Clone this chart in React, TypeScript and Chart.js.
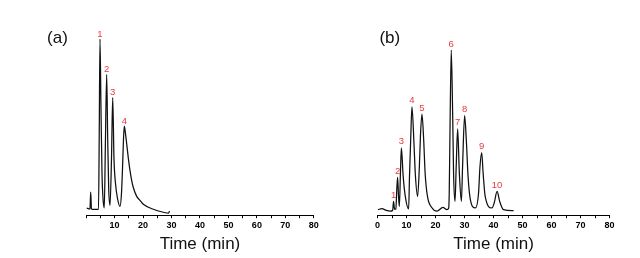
import React, { useEffect, useRef } from 'react';
import { Chart, registerables } from 'chart.js';

Chart.register(...registerables);

// ---- Panel (a) chromatogram ----
const timeA = [0.21, 1.18, 1.36, 1.61, 1.89, 2.29, 4.36, 4.61, 4.88, 5.23, 5.59, 5.94, 6.39, 6.75, 7.23, 7.59, 7.94, 8.4, 8.92, 9.35, 9.8, 10.33, 11.03, 11.91, 12.43, 12.79, 13.14, 13.42, 13.77, 14.27, 14.82, 15.43, 16.02, 16.59, 17.78, 18.93, 20.1, 23.61, 27.13, 28.95, 29.31];
const signalA = [7.3, 6.3, 6.6, 23.3, 6.3, 5.8, 5.8, 80, 178, 107, 42, 17, 7.3, 67, 142.3, 77, 27, 10, 57, 119, 57, 32, 17, 8.8, 22, 47, 77, 90, 84, 72, 58, 45, 35, 28, 19, 15, 11, 6, 3, 2, 4.3];
const peakLabelsA = ['1', '2', '3', '4'];
const peakTimesA = [4.88, 7.23, 9.35, 13.42];
const peakHeightsA = [178, 142.3, 119, 90];

// ---- Panel (b) chromatogram ----
const timeB = [0.1, 1.5, 3.0, 4.4, 5.2, 5.5, 5.85, 6.3, 6.6, 6.9, 7.2, 7.5, 7.9, 8.2, 8.8, 9.55, 10.7, 11.0, 11.4, 11.85, 12.55, 13.0, 13.8, 14.4, 14.8, 15.3, 15.9, 16.4, 17.2, 18.8, 20.5, 22.5, 23.9, 24.5, 24.7, 24.95, 25.4, 25.9, 26.2, 26.7, 27.1, 27.6, 28.2, 28.9, 29.3, 30.0, 30.6, 31.2, 32.0, 33.7, 34.8, 35.3, 35.9, 36.4, 37.1, 39.4, 40.2, 41.2, 42.1, 43.4, 46.9];
const signalB = [5.6, 6.6, 4.8, 4.0, 5.0, 14, 6.0, 6.5, 25, 38.3, 20, 9, 45, 68, 40, 19, 6.3, 39, 75.6, 109.6, 72, 42, 19, 49, 82, 102.3, 75.6, 42, 19, 7.3, 4.0, 8.0, 5.6, 7.0, 22, 82, 167, 99, 42, 14, 49, 87.3, 42, 14, 49, 100.6, 75.6, 39, 15.6, 7.3, 22, 49, 63.3, 42, 19, 7.3, 12.3, 24, 14, 5.6, 4.6];
const peakLabelsB = ['1', '2', '3', '4', '5', '6', '7', '8', '9', '10'];
const peakTimesB = [5.5, 6.9, 8.2, 11.85, 15.3, 25.4, 27.6, 30.0, 35.9, 41.2];
const peakHeightsB = [14, 38.3, 68, 109.6, 102.3, 167, 87.3, 100.6, 63.3, 24];

// ---- Axis ----
const X_MIN = 0;
const X_MAX = 80;
const TICK_STEP = 5;
const LABEL_STEP = 10;
const X_TITLE = 'Time (min)';
const Y_MAX = 190;

type PanelSpec = {
  name: string;
  time: number[];
  signal: number[];
  labels: string[];
  peakTimes: number[];
  peakHeights: number[];
  showZero: boolean;
  padLeft: number;
  padRight: number;
  nameDx: number;
  labelGap: number;
};

const panels: PanelSpec[] = [
  { name: '(a)', time: timeA, signal: signalA, labels: peakLabelsA, peakTimes: peakTimesA, peakHeights: peakHeightsA, showZero: false, padLeft: 86.1, padRight: 326.2, nameDx: -28.6, labelGap: 2.5 },
  { name: '(b)', time: timeB, signal: signalB, labels: peakLabelsB, peakTimes: peakTimesB, peakHeights: peakHeightsB, showZero: true, padLeft: 377.6, padRight: 30.4, nameDx: 12.2, labelGap: 3.5 },
];

const TICK_FONT = "'Liberation Sans Narrow', 'Arial Narrow', 'Liberation Sans', Arial, sans-serif";
const TEXT_FONT = "'Liberation Sans', Arial, sans-serif";

function Panel({ spec }: { spec: PanelSpec }) {
  const ref = useRef<HTMLCanvasElement | null>(null);
  useEffect(() => {
    if (!ref.current) return;
    const annot = {
      id: 'peakLabels',
      afterDatasetsDraw(chart: any) {
        const ctx = chart.ctx;
        const xs = chart.scales.x;
        const ys = chart.scales.y;
        ctx.save();
        ctx.fillStyle = '#e83a3a';
        ctx.font = `9.5px ${TEXT_FONT}`;
        ctx.textAlign = 'center';
        ctx.textBaseline = 'alphabetic';
        spec.labels.forEach((lab, i) => {
          const x = xs.getPixelForValue(spec.peakTimes[i]);
          const y = ys.getPixelForValue(spec.peakHeights[i]) - spec.labelGap;
          ctx.fillText(lab, x, y);
        });
        ctx.fillStyle = '#111';
        ctx.font = `17px ${TEXT_FONT}`;
        ctx.textBaseline = 'middle';
        ctx.fillText(spec.name, chart.chartArea.left + spec.nameDx, 38);
        ctx.restore();
      },
    };
    const chart = new Chart(ref.current, {
      type: 'line',
      data: {
        datasets: [
          {
            data: spec.time.map((t, i) => ({ x: t, y: spec.signal[i] })),
            borderColor: '#101010',
            borderWidth: 1.25,
            pointRadius: 0,
            fill: false,
            cubicInterpolationMode: 'monotone',
          },
        ],
      },
      options: {
        responsive: false,
        animation: false,
        devicePixelRatio: 1,
        layout: { padding: { left: spec.padLeft, right: spec.padRight, top: 27.3, bottom: 3.1 } },
        plugins: { legend: { display: false }, tooltip: { enabled: false }, title: { display: false } },
        scales: {
          x: {
            type: 'linear',
            min: X_MIN,
            max: X_MAX,
            border: { display: true, color: '#000', width: 1 },
            grid: { drawOnChartArea: false, drawTicks: true, tickLength: 3, color: '#000', lineWidth: 1 },
            ticks: {
              stepSize: TICK_STEP,
              autoSkip: false,
              maxRotation: 0,
              padding: 2,
              color: '#000',
              font: { family: TICK_FONT, size: 9, weight: 'bold' },
              callback: (v: any) => {
                const n = Number(v);
                if (n % LABEL_STEP !== 0) return '';
                if (n === 0 && !spec.showZero) return '';
                return String(n);
              },
            },
            title: {
              display: true,
              text: X_TITLE,
              color: '#111',
              font: { family: TEXT_FONT, size: 17 },
              padding: { top: 1.5, bottom: 0 },
            },
          },
          y: { display: false, min: 0, max: Y_MAX },
        },
      },
      plugins: [annot],
    } as any);
    return () => chart.destroy();
  }, [spec]);
  return (
    <canvas
      ref={ref}
      width={640}
      height={258}
      style={{ position: 'absolute', left: 0, top: 0, width: 640, height: 258 }}
    />
  );
}

export default function App() {
  return (
    <div style={{ position: 'fixed', left: 0, top: 0, width: 640, height: 258, background: '#fff', overflow: 'hidden' }}>
      {panels.map((p) => (
        <Panel key={p.name} spec={p} />
      ))}
    </div>
  );
}
